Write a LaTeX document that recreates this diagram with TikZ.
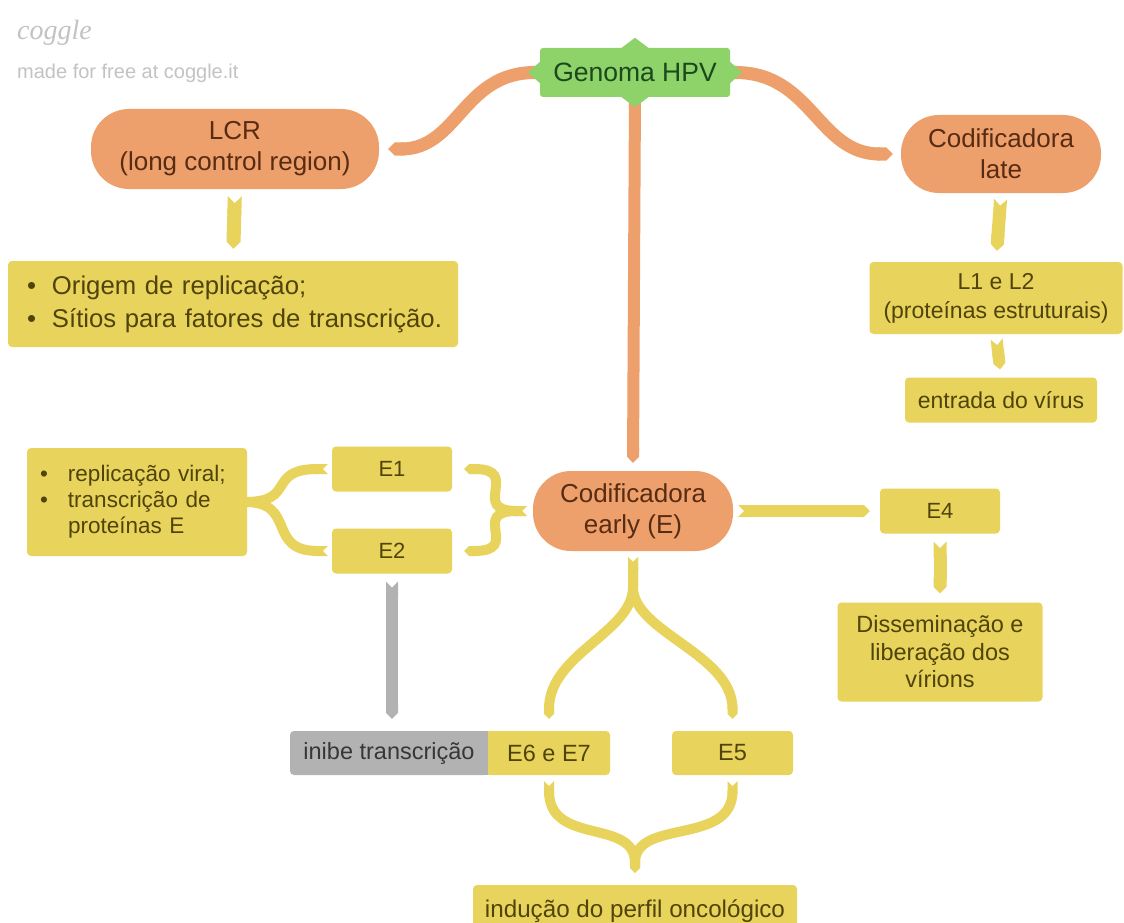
\documentclass[tikz,border=0pt]{standalone}
\usepackage{fontspec}
\setmainfont{Liberation Sans}
\newfontfamily\logofont{Liberation Serif}
\usetikzlibrary{arrows.meta,calc,backgrounds}
\definecolor{orangec}{RGB}{238,160,108}
\definecolor{yellowc}{RGB}{232,212,92}
\definecolor{greenc}{RGB}{142,210,106}
\definecolor{grayc}{RGB}{178,178,178}
\definecolor{otext}{RGB}{88,44,18}
\definecolor{ytext}{RGB}{80,68,10}
\definecolor{gtext}{RGB}{28,72,28}
\definecolor{greytext}{RGB}{55,55,55}
\definecolor{logoc}{RGB}{195,195,195}
\newcommand{\fs}[2]{\fontsize{#1}{#2}\selectfont}
\newcommand{\bl}[1]{\makebox[#1][l]{\hspace{3pt}•}}
\begin{document}
\begin{tikzpicture}[x=1pt,y=-1pt,
  ybox/.style={fill=yellowc, text=ytext, rounded corners=4, inner sep=0, align=center, font=\fs{23.5}{28}},
  pill/.style={fill=orangec, text=otext, rounded corners=38, inner sep=0, align=center, font=\fs{26}{31}},
  gbox/.style={fill=greenc, text=gtext, rounded corners=3, inner sep=0, font=\fs{26.5}{30}},
  graybox/.style={fill=grayc, text=greytext, rounded corners=4, inner sep=0, font=\fs{23.5}{28}},
  oconn/.style={draw=orangec, line width=13, arrows={Triangle Cap[reversed]-Triangle Cap}},
  yconn/.style={draw=yellowc, line width=12, arrows={Triangle Cap[reversed]-Triangle Cap}},
  ybrace/.style={draw=yellowc, line width=10, arrows={Triangle Cap[reversed]-Triangle Cap}},
  gconn/.style={draw=grayc, line width=12, arrows={Triangle Cap[reversed]-Triangle Cap}}
]
\useasboundingbox (0,0) rectangle (1124,923);

% logo
\node[anchor=west, text=logoc, font=\logofont\itshape\fs{28}{30}, inner sep=0] (logo) at (17,33) {coggle};
\node[anchor=west, text=logoc, font=\fs{20}{24}, inner sep=0] (made) at (17,73) {made for free at coggle.it};

% root
\node[gbox, minimum width=190, minimum height=49] (genoma) at (635,72.5) {Genoma HPV};
\fill[greenc] ($(genoma.north)+(-14,0.5)$) -- ($(genoma.north)+(0,-10)$) -- ($(genoma.north)+(14,0.5)$) -- cycle;
\fill[greenc] ($(genoma.south)+(-14,-0.5)$) -- ($(genoma.south)+(0,10)$) -- ($(genoma.south)+(14,-0.5)$) -- cycle;
\fill[greenc] ($(genoma.west)+(0.5,-11)$) -- ($(genoma.west)+(-12,0)$) -- ($(genoma.west)+(0.5,11)$) -- cycle;
\fill[greenc] ($(genoma.east)+(-0.5,-11)$) -- ($(genoma.east)+(12,0)$) -- ($(genoma.east)+(-0.5,11)$) -- cycle;

% left branch
\node[pill, minimum width=288, minimum height=80] (lcr) at (235,149) {LCR\\(long control region)};
\node[ybox, minimum width=450, minimum height=86, text width=418, align=left, font=\fs{25.7}{33}] (bul) at (233,304)
  {\bl{28pt}Origem de replicação;\\\bl{28pt}Sítios para fatores de transcrição.};

% right branch
\node[pill, minimum width=200, minimum height=78] (late) at (1001,154) {Codificadora\\late};
\node[ybox, minimum width=253, minimum height=72, font=\fs{23}{29}] (l12) at (996,298) {L1 e L2\\(proteínas estruturais)};
\node[ybox, minimum width=192, minimum height=45, font=\fs{23}{28}] (entrada) at (1001,400) {entrada do vírus};

% early
\node[pill, minimum width=200, minimum height=80] (early) at (633,511) {Codificadora\\early (E)};
\node[ybox, minimum width=120, minimum height=45, font=\fs{22}{26}] (e1) at (392,469) {E1};
\node[ybox, minimum width=120, minimum height=45, font=\fs{22}{26}] (e2) at (392,551) {E2};
\node[ybox, minimum width=220, minimum height=108, text width=200, align=left, font=\fs{22.5}{26}] (rep) at (137,502)
  {\bl{31pt}replicação viral;\\\bl{31pt}transcrição de\\\hspace*{31pt}proteínas E};
\node[ybox, minimum width=120, minimum height=45, font=\fs{22}{26}] (e4) at (940,511) {E4};
\node[ybox, minimum width=205, minimum height=99, font=\fs{23.5}{27.5}] (diss) at (940,652) {Disseminação e\\liberação dos\\vírions};

% bottom
\node[graybox, minimum width=198, minimum height=44] (inibe) at (389,753) {inibe transcrição};
\node[ybox, minimum width=122, minimum height=44] (e67) at (549,753) {E6 e E7};
\fill[grayc] ([xshift=-5]inibe.north east) rectangle (inibe.south east);
\fill[yellowc] (e67.north west) rectangle ([xshift=5]e67.south west);
\node[ybox, minimum width=121, minimum height=44] (e5) at (732.5,753) {E5};
\node[ybox, minimum width=324, minimum height=52, font=\fs{24.2}{28}] (ind) at (635,911) {indução do perfil oncológico};

\begin{scope}[on background layer]
\fill[white] (0,0) rectangle (1124,923);
% orange
\draw[oconn] ([xshift=8]genoma.west) .. controls +(-85,0) and +(70,0) .. ([xshift=9]lcr.east);
\draw[oconn] ([xshift=-8]genoma.east) .. controls +(90,0) and +(-75,0) .. ([xshift=-8]late.west);
\draw[oconn, line width=12] ([yshift=4]genoma.south) -- ([yshift=8]early.north);
% straight yellow
\draw[yconn, line width=14, shorten <=7, shorten >=12] (lcr.south) -- (bul.north);
\draw[yconn, line width=13, shorten <=6, shorten >=11] (late.south) -- (l12.north);
\draw[yconn, line width=12, shorten <=5, shorten >=8] (l12.south) -- (entrada.north);
\draw[yconn, shorten <=5, shorten >=10] (early.east) -- (e4.west);
\draw[yconn, line width=13, shorten <=8, shorten >=9] (e4.south) -- (diss.north);
% braces
\draw[ybrace] ([xshift=-6]early.west) .. controls +(-58,0) and +(58,0) .. ([xshift=12]e1.east);
\draw[ybrace] ([xshift=-6]early.west) .. controls +(-58,0) and +(58,0) .. ([xshift=12]e2.east);
\draw[ybrace] ([xshift=-4]e1.west) .. controls +(-62,0) and +(62,0) .. ([xshift=-12]rep.east);
\draw[ybrace] ([xshift=-4]e2.west) .. controls +(-62,0) and +(62,0) .. ([xshift=-12]rep.east);
\draw[ybrace] ([yshift=-6]early.south) -- ++(0,30) .. controls +(0,45) and +(0,-65) .. ([yshift=12]e67.north);
\draw[ybrace] ([yshift=-6]early.south) -- ++(0,30) .. controls +(0,45) and +(0,-65) .. ([yshift=12]e5.north);
\draw[ybrace] ([yshift=-6]e67.south) .. controls +(0,65) and +(0,-55) .. ([yshift=12]ind.north);
\draw[ybrace] ([yshift=-6]e5.south) .. controls +(0,65) and +(0,-55) .. ([yshift=12]ind.north);
% gray
\draw[gconn, shorten <=8, shorten >=12] (e2.south) -- (e2.south |- inibe.north);
\end{scope}
\end{tikzpicture}
\end{document}
